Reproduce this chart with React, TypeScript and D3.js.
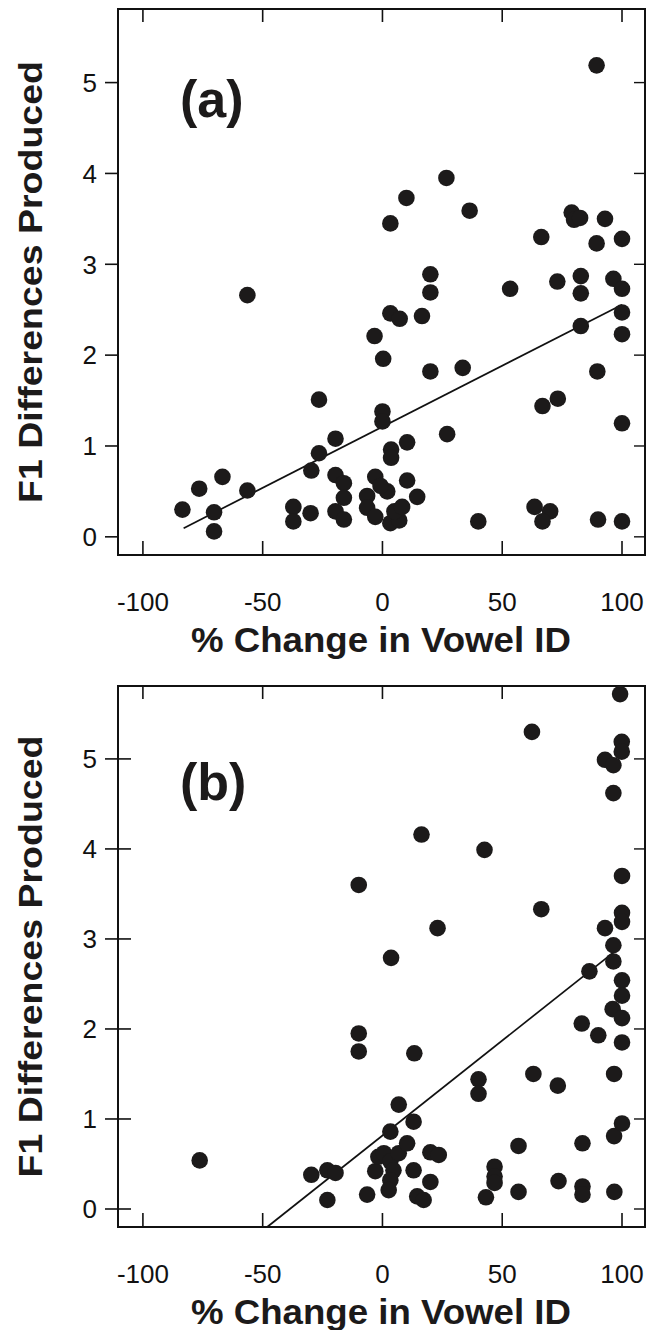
import React from "react";
import * as d3 from "d3";

// ---------- data ----------
const xTicks = [-100, -50, 0, 50, 100];
const yTicks = [0, 1, 2, 3, 4, 5];

const aX = [-83.5, -76.5, -70.3, -70.3, -66.8, -56.4, -56.4, -37.2, -37.2, -30, -29.7, -26.5, -26.5, -19.6, -19.6, -16.1, -16.1, -19.6, -16.1, -3.3, 0.3, 0, 0, 3.3, 3.3, 7.2, 10, 16.5, 20, 20, 20, 26.7, 36.4, 33.5, 27, 10.3, 3.6, 3.6, -3, -6.4, -6.4, -3, 3.3, 7, 5, 8.2, 2, -0.8, 10.3, 14.5, 40, 53.3, 63.5, 70, 66.8, 66.3, 66.8, 73.2, 73, 79, 80, 82.5, 82.8, 82.8, 82.8, 89.4, 89.4, 92.9, 89.7, 90, 96.4, 100, 100, 100, 100, 100, 100];
const aY = [0.30, 0.53, 0.27, 0.06, 0.66, 0.51, 2.66, 0.33, 0.17, 0.26, 0.73, 0.92, 1.51, 1.08, 0.68, 0.59, 0.43, 0.28, 0.19, 2.21, 1.96, 1.38, 1.27, 3.45, 2.46, 2.40, 3.73, 2.43, 2.89, 2.69, 1.82, 3.95, 3.59, 1.86, 1.13, 1.04, 0.96, 0.87, 0.66, 0.45, 0.32, 0.22, 0.15, 0.18, 0.28, 0.33, 0.50, 0.56, 0.62, 0.44, 0.17, 2.73, 0.33, 0.28, 0.17, 3.30, 1.44, 1.52, 2.81, 3.57, 3.49, 3.51, 2.87, 2.68, 2.32, 5.19, 3.23, 3.50, 1.82, 0.19, 2.84, 2.73, 3.28, 2.47, 2.23, 1.25, 0.17];
const aFit = { x0: -83, x1: 100, intercept: 1.211, slope: 0.01344 };

const bX = [-76.3, -29.7, -23, -19.6, -23, -9.9, -9.9, -9.9, -6.4, -3, -1.7, 0.6, 3.3, 4.6, 3.3, 2.6, 3.3, 6.8, 6.8, 10.3, 13, 13, 14.5, 17.2, 20, 20, 23.5, 13.3, 3.6, 16.3, 23, 40.1, 40.1, 42.6, 43.2, 46.8, 46.8, 46.8, 56.8, 56.8, 62.4, 63, 66.3, 73.2, 73.5, 83.2, 83.5, 83.5, 83.5, 86.4, 90.1, 92.9, 92.9, 96.4, 96.4, 96.4, 96.4, 96.1, 96.7, 96.7, 96.8, 99.2, 99.9, 99.9, 100, 100, 100, 100, 100, 100, 100, 100];
const bY = [0.54, 0.38, 0.43, 0.40, 0.10, 3.60, 1.95, 1.75, 0.16, 0.42, 0.58, 0.62, 0.53, 0.43, 0.32, 0.21, 0.86, 1.16, 0.62, 0.73, 0.97, 0.43, 0.14, 0.10, 0.30, 0.63, 0.60, 1.73, 2.79, 4.16, 3.12, 1.44, 1.28, 3.99, 0.13, 0.47, 0.36, 0.29, 0.70, 0.19, 5.30, 1.50, 3.33, 1.37, 0.31, 2.06, 0.73, 0.25, 0.16, 2.64, 1.93, 4.99, 3.12, 4.93, 4.62, 2.93, 2.75, 2.22, 1.50, 0.81, 0.19, 5.72, 5.19, 5.08, 3.70, 3.29, 3.19, 2.54, 2.37, 2.12, 1.85, 0.95];
const bFit = { x0: -48, x1: 97, intercept: 0.816, slope: 0.0211 };

const xDomain: [number, number] = [-110.4, 109.6];
const yDomain: [number, number] = [-0.2, 5.81];

const FONT = "'Liberation Sans', Arial, Helvetica, sans-serif";

type PanelProps = {
  top: number;
  bottom: number;
  xs: number[];
  ys: number[];
  fit: { x0: number; x1: number; intercept: number; slope: number };
  label: string;
  leftTickIn: number;
  labelBaseline: number;
};

function Panel({ top, bottom, xs, ys, fit, label, leftTickIn, labelBaseline }: PanelProps) {
  const left = 118;
  const right = 645;
  const x = d3.scaleLinear().domain(xDomain).range([left, right]);
  const y = d3.scaleLinear().domain(yDomain).range([bottom, top]);
  const line = d3.line<number>().x((d) => x(d)).y((d) => y(fit.intercept + fit.slope * d));
  const ttlCenterY = (top + bottom) / 2;
  return (
    <g>
      {/* frame */}
      <rect x={left} y={top} width={right - left} height={bottom - top} fill="none" stroke="#111" strokeWidth={2} />
      {/* x ticks bottom & top (inward) */}
      {xTicks.map((t) => (
        <g key={"xt" + t}>
          <line x1={x(t)} x2={x(t)} y1={bottom} y2={bottom - 14} stroke="#111" strokeWidth={1.6} />
          <line x1={x(t)} x2={x(t)} y1={top} y2={top + 13} stroke="#111" strokeWidth={1.6} />
          <text x={x(t)} y={bottom + 56} textAnchor="middle" fontFamily={FONT} fontSize={26} fill="#111">
            {t}
          </text>
        </g>
      ))}
      {/* y ticks */}
      {yTicks.map((t) => (
        <g key={"yt" + t}>
          <line x1={left - 13} x2={left + leftTickIn} y1={y(t)} y2={y(t)} stroke="#111" strokeWidth={1.6} />
          <line x1={right} x2={right - 11} y1={y(t)} y2={y(t)} stroke="#111" strokeWidth={1.4} />
          <text x={97} y={y(t)} dy="0.36em" textAnchor="end" fontFamily={FONT} fontSize={26} fill="#111">
            {t}
          </text>
        </g>
      ))}
      {/* regression line */}
      <path d={line([fit.x0, fit.x1]) || ""} fill="none" stroke="#111" strokeWidth={1.7} />
      {/* points */}
      {xs.map((v, i) => (
        <circle key={"p" + i} cx={x(v)} cy={y(ys[i])} r={8.3} fill="#1c1a1a" />
      ))}
      {/* panel label */}
      <text x={180} y={labelBaseline} fontFamily={FONT} fontWeight="bold" fontSize={52} fill="#1c1a1a">
        {label}
      </text>
      {/* axis titles */}
      <text
        x={381}
        y={bottom + 97}
        textAnchor="middle"
        fontFamily={FONT}
        fontWeight="bold"
        fontSize={35}
        textLength={380}
        lengthAdjust="spacingAndGlyphs"
        fill="#1c1a1a"
      >
        % Change in Vowel ID
      </text>
      <text
        transform={`translate(42,${ttlCenterY}) rotate(-90)`}
        textAnchor="middle"
        fontFamily={FONT}
        fontWeight="bold"
        fontSize={34}
        textLength={442}
        lengthAdjust="spacingAndGlyphs"
        fill="#1c1a1a"
      >
        F1 Differences Produced
      </text>
    </g>
  );
}

export default function App() {
  return (
    <svg
      width={651}
      height={1330}
      viewBox="0 0 651 1330"
      style={{ position: "absolute", left: 0, top: 0, background: "#fff" }}
    >
      <rect x={0} y={0} width={651} height={1330} fill="#fff" />
      <Panel top={9} bottom={555} xs={aX} ys={aY} fit={aFit} label="(a)" leftTickIn={0} labelBaseline={117} />
      <Panel top={686} bottom={1227} xs={bX} ys={bY} fit={bFit} label="(b)" leftTickIn={13} labelBaseline={800} />
    </svg>
  );
}
